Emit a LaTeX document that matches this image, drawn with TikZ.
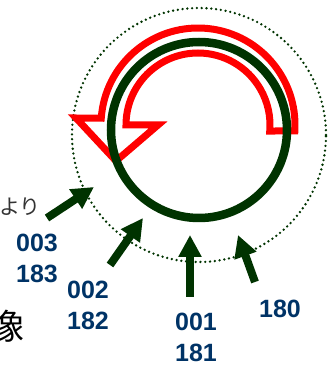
\documentclass[tikz,border=0pt]{standalone}
\usepackage{fontspec}
\setmainfont{Liberation Sans}
\newfontfamily\jpfont{Noto Sans CJK JP}
\usetikzlibrary{arrows.meta,calc}
\definecolor{deepgreen}{RGB}{0,51,0}
\definecolor{navytext}{RGB}{0,51,102}
\definecolor{redline}{RGB}{255,0,0}
\begin{document}
\begin{tikzpicture}[x=1pt,y=1pt,
  orbit/.style={draw=deepgreen,line width=2.6pt,line cap=round,dash pattern=on 0pt off 4.8pt},
  ring/.style={draw=deepgreen,line width=8.5pt},
  turn/.style={draw=redline,line width=7pt,line join=miter,miter limit=10},
  pointer/.style={draw=deepgreen,line width=8pt,-{Triangle[width=22pt,length=22pt]}},
  idlabel/.style={text=navytext,font=\bfseries\fontsize{25}{31}\selectfont,align=center,inner sep=0pt},
  kana/.style={inner sep=0pt,anchor=east}]
\useasboundingbox (0,0) rectangle (329,367);
\clip (0,0) rectangle (329,367);

% outer dotted orbit
\draw[orbit] (199,232) circle[radius=127];

% hollow red turning arrow
\coordinate (rc) at (198,242);
\draw[turn] ($(rc)+(-3.5:97)$) arc[start angle=-3.5,end angle=176,radius=97]
  -- (76,249) -- (116,206) -- (158,242) -- (126,242)
  arc[start angle=180,end angle=-4.8,radius=72] -- cycle;

% green ring
\draw[ring] (199,237) circle[radius=88];

% side text
\node[kana,text=black!80,font=\jpfont\fontsize{21}{21}\selectfont] (yori) at (41,160) {より};
\node[kana,text=black,font=\jpfont\fontsize{35}{35}\selectfont] (zou) at (25,41) {像};

% labels
\node[idlabel] (l3) at (37,108.5) {003\\183};
\node[idlabel] (l2) at (88,62) {002\\182};
\node[idlabel] (l1) at (196,29.5) {001\\181};
\node[idlabel] (l0) at (280,58) {180};

% pointer arrows
\coordinate (t3) at (47,149);  \coordinate (h3) at (94,180);
\coordinate (t2) at (110,102); \coordinate (h2) at (143,149);
\coordinate (t1) at (190,70);  \coordinate (h1) at (190,132);
\coordinate (t0) at (255,85);  \coordinate (h0) at (238,132);
\draw[pointer] (t3) -- (h3);
\draw[pointer] (t2) -- (h2);
\draw[pointer] (t1) -- (h1);
\draw[pointer] (t0) -- (h0);
\end{tikzpicture}
\end{document}
